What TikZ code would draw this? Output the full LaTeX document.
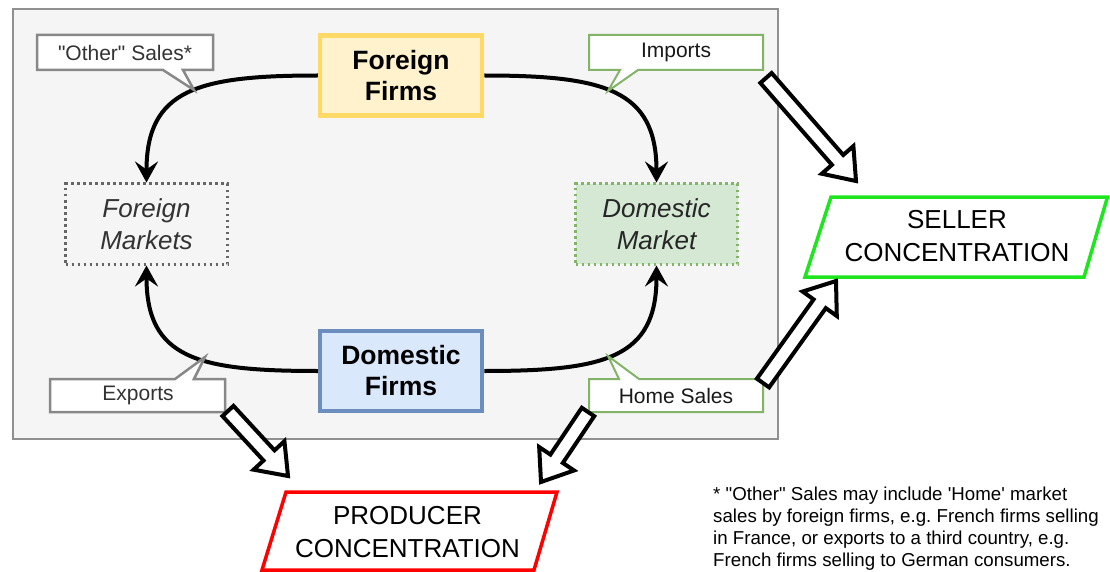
\documentclass[tikz,border=0pt]{standalone}
\usepackage{fontspec}
\setmainfont{Liberation Sans}
% plain family without TeX ligatures, so " and ' stay straight
\newfontfamily\labelfont{Liberation Sans}
\usetikzlibrary{arrows.meta,calc}

\definecolor{panelfill}{HTML}{F5F5F5}
\definecolor{panelstroke}{HTML}{909090}
\definecolor{fffill}{HTML}{FFF2CC}
\definecolor{ffstroke}{HTML}{FFD966}
\definecolor{dffill}{HTML}{DAE8FC}
\definecolor{dfstroke}{HTML}{6C8EBF}
\definecolor{dmfill}{HTML}{D5E8D4}
\definecolor{dmstroke}{HTML}{82B366}
\definecolor{mkgray}{HTML}{666666}
\definecolor{darktext}{HTML}{333333}
\definecolor{calloutgray}{HTML}{888888}
\definecolor{sellergreen}{HTML}{1EE61E}
\definecolor{producerred}{HTML}{FF0000}

% hollow block arrow from #1 to #2
\newcommand\hollowarrow[2]{%
  \path ($(#2)!28pt!(#1)$) coordinate (ha-base);
  \draw[blockarrow]
    ($(#1)!7.5pt!90:(#2)$) -- ($(ha-base)!7.5pt!90:(#2)$)
    -- ($(ha-base)!21pt!90:(#2)$) -- (#2)
    -- ($(ha-base)!21pt!-90:(#2)$) -- ($(ha-base)!7.5pt!-90:(#2)$)
    -- ($(#1)!7.5pt!-90:(#2)$) -- cycle;}

\begin{document}
\frenchspacing
\begin{tikzpicture}[x=1pt,y=-1pt,
  firmbox/.style={draw, line width=4.5pt, minimum width=162pt, minimum height=80pt,
    align=center, inner sep=0pt, font=\labelfont\fontsize{26.5}{31}\selectfont\bfseries},
  marketbox/.style={draw, dash pattern=on 2.5pt off 3.5pt, line width=3pt,
    minimum width=162pt, minimum height=80pt, align=center, inner sep=0pt,
    font=\labelfont\fontsize{26}{32}\selectfont\itshape},
  flow/.style={line width=4pt, -{Stealth[length=21pt,width=23pt,inset=8pt]}},
  calloutlabel/.style={font=\labelfont\fontsize{21}{25}\selectfont, inner sep=0pt},
  callgray/.style={draw=calloutgray, fill=white, line width=2.5pt},
  callgreen/.style={draw=dmstroke, fill=white, line width=2pt},
  blockarrow/.style={draw=black, fill=white, line width=4pt, line join=miter},
  concbox/.style={line width=3.5pt, fill=white},
  conclabel/.style={font=\labelfont\fontsize{26}{33}\selectfont, align=center, inner sep=0pt},
  footnote/.style={font=\labelfont\fontsize{18.7}{22}\selectfont, align=left, inner sep=0pt}
]
\useasboundingbox (0,0) rectangle (1110,572);

% market panel
\node[draw=panelstroke, fill=panelfill, line width=2pt, minimum width=765pt,
  minimum height=430pt, inner sep=0pt, anchor=north west] (panel) at (12,8) {};

% firms and markets
\node[firmbox, draw=ffstroke, fill=fffill] (ff) at (401,75.5) {Foreign\\Firms};
\node[firmbox, draw=dfstroke, fill=dffill] (df) at (401,371) {Domestic\\Firms};
\node[marketbox, draw=mkgray, text=darktext] (fm) at (146.5,224) {Foreign\\Markets};
\node[marketbox, draw=dmstroke, fill=dmfill, text=black!85] (dm) at (656.5,224) {Domestic\\Market};

% sales flows
\draw[flow] (ff.west) .. controls +(-120,0) and +(0,-93) .. (fm.north);
\draw[flow] (ff.east) .. controls +(120,0) and +(0,-93) .. (dm.north);
\draw[flow] (df.west) .. controls +(-120,0) and +(0,93) .. (fm.south);
\draw[flow] (df.east) .. controls +(120,0) and +(0,93) .. (dm.south);

% callouts
\draw[callgray] (37,35) -- (213,35) -- (213,70) -- (183,70) -- (194,90) -- (163,70) -- (37,70) -- cycle;
\node[calloutlabel, text=darktext] (othersales) at (125,52.5) {"Other" Sales*};
\draw[callgreen] (589,35) -- (763,35) -- (763,70) -- (638,70) -- (608,91) -- (620,70) -- (589,70) -- cycle;
\node[calloutlabel, text=black!90] (imports) at (676,52.5) {Imports};
\draw[callgray] (50,379) -- (175,379) -- (205,357) -- (194,379) -- (225,379) -- (225,412) -- (50,412) -- cycle;
\node[calloutlabel, text=darktext] (exports) at (138,395.5) {Exports};
\draw[callgreen] (589,379) -- (619,379) -- (608,356) -- (639,379) -- (763,379) -- (763,412) -- (589,412) -- cycle;
\node[calloutlabel, text=black!90] (homesales) at (676,395.5) {Home Sales};

% concentration measures
\draw[concbox, draw=sellergreen] (831,197) -- (1107.5,197) -- (1084,277) -- (805,277) -- cycle;
\node[conclabel] (seller) at (957,236.5) {SELLER\\CONCENTRATION};
\draw[concbox, draw=producerred] (286,492) -- (557,492) -- (534,570) -- (262,570) -- cycle;
\node[conclabel] (producer) at (407.5,532.5) {PRODUCER\\CONCENTRATION};

% hollow arrows into the measures
\coordinate (impA) at (766,78);  \coordinate (impB) at (856,181);
\coordinate (homeA) at (763,383); \coordinate (homeB) at (836,281);
\coordinate (expA) at (228,411);  \coordinate (expB) at (288,476);
\coordinate (hpA) at (588,412);   \coordinate (hpB) at (541,482);
\hollowarrow{impA}{impB}
\hollowarrow{homeA}{homeB}
\hollowarrow{expA}{expB}
\hollowarrow{hpA}{hpB}

% footnote
\node[footnote, anchor=north west] (note) at (713,487)
  {* "Other" Sales may include 'Home' market\\
   sales by foreign firms, e.g. French firms selling\\
   in France, or exports to a third country, e.g.\\
   French firms selling to German consumers.};
\end{tikzpicture}
\end{document}
